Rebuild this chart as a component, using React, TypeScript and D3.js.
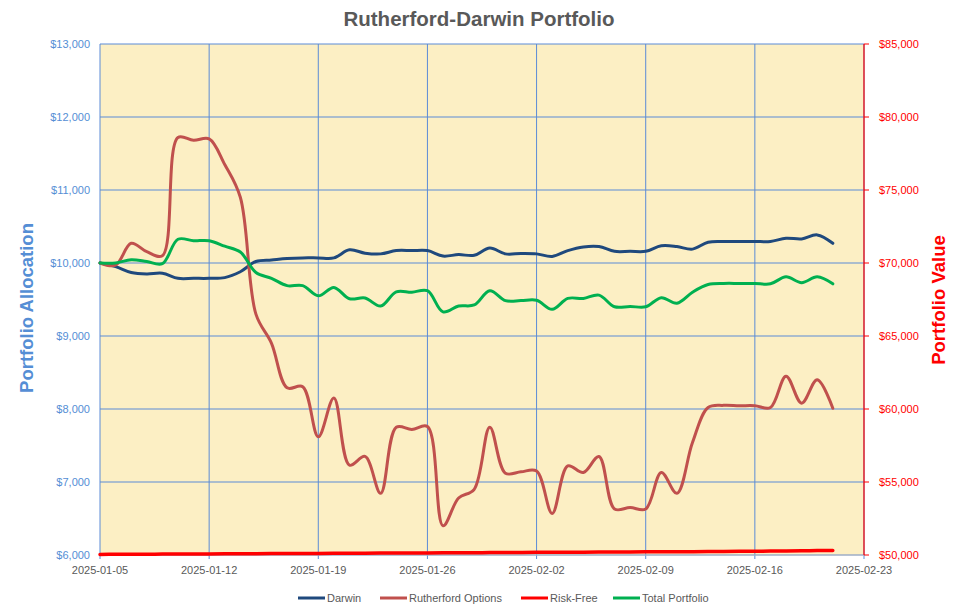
import React from "react";
import * as d3 from "d3";

const dates: string[] = [
  "2025-01-05","2025-01-06","2025-01-07","2025-01-08","2025-01-09","2025-01-10","2025-01-11","2025-01-12",
  "2025-01-13","2025-01-14","2025-01-15","2025-01-16","2025-01-17","2025-01-18","2025-01-19","2025-01-20",
  "2025-01-21","2025-01-22","2025-01-23","2025-01-24","2025-01-25","2025-01-26","2025-01-27","2025-01-28",
  "2025-01-29","2025-01-30","2025-01-31","2025-02-01","2025-02-02","2025-02-03","2025-02-04","2025-02-05",
  "2025-02-06","2025-02-07","2025-02-08","2025-02-09","2025-02-10","2025-02-11","2025-02-12","2025-02-13",
  "2025-02-14","2025-02-15","2025-02-16","2025-02-17","2025-02-18","2025-02-19","2025-02-20","2025-02-21",
];

const darwin: number[] = [
  10000, 9950, 9870, 9850, 9860, 9790, 9790, 9790, 9800, 9880, 10020, 10040, 10060, 10070, 10070, 10070,
  10180, 10135, 10125, 10170, 10170, 10170, 10095, 10115, 10105, 10205, 10125, 10130, 10125, 10090, 10170, 10220,
  10225, 10160, 10160, 10160, 10235, 10225, 10190, 10285, 10295, 10295, 10295, 10295, 10340, 10330, 10385, 10270,
];

const rutherford: number[] = [
  10000, 9970, 10270, 10155, 10100, 11720, 11680, 11700, 11350, 10900, 9300, 8900, 8290, 8305, 7620, 8150,
  7230, 7350, 6845, 7750, 7720, 7760, 6400, 6780, 6900, 7750, 7120, 7140, 7150, 6570, 7220, 7130,
  7350, 6630, 6650, 6630, 7130, 6845, 7540, 8020, 8050, 8045, 8045, 8020, 8450, 8080, 8400, 8010,
];

const riskFree: number[] = [
  6008, 6009, 6010, 6011, 6012, 6013, 6014, 6015, 6016, 6017, 6018, 6019, 6020, 6021, 6022, 6023,
  6024, 6025, 6026, 6027, 6028, 6029, 6030, 6031, 6032, 6033, 6034, 6035, 6036, 6037, 6038, 6039,
  6040, 6041, 6042, 6043, 6044, 6045, 6046, 6047, 6048, 6050, 6052, 6054, 6056, 6058, 6060, 6062,
];

const totalPortfolio: number[] = [
  70000, 70000, 70225, 70100, 69950, 71625, 71525, 71525, 71150, 70750, 69350, 68950, 68450, 68450, 67750, 68325,
  67550, 67600, 67050, 68025, 68000, 68100, 66650, 67050, 67125, 68100, 67425, 67425, 67450, 66825, 67575, 67575,
  67800, 67000, 67025, 67000, 67625, 67250, 68000, 68525, 68600, 68600, 68600, 68575, 69050, 68650, 69050, 68575,
];

const xTicks: string[] = [
  "2025-01-05","2025-01-12","2025-01-19","2025-01-26","2025-02-02","2025-02-09","2025-02-16","2025-02-23",
];
const leftTicks: number[] = [6000, 7000, 8000, 9000, 10000, 11000, 12000, 13000];
const rightTicks: number[] = [50000, 55000, 60000, 65000, 70000, 75000, 80000, 85000];

const seriesNames: string[] = ["Darwin", "Rutherford Options", "Risk-Free", "Total Portfolio"];
const seriesColors: string[] = ["#1F497D", "#C0504D", "#FF0000", "#00B050"];

const W = 956, H = 616;
const M = { left: 100, right: 864, top: 44, bottom: 555 };
const FONT = "'Liberation Sans', Arial, sans-serif";

export default function App() {
  const parse = d3.utcParse("%Y-%m-%d");
  const dts = dates.map((d) => parse(d) as Date);
  const x = d3.scaleUtc()
    .domain([parse("2025-01-05") as Date, parse("2025-02-23") as Date])
    .range([M.left, M.right]);
  const yL = d3.scaleLinear().domain([6000, 13000]).range([M.bottom, M.top]);
  const yR = d3.scaleLinear().domain([50000, 85000]).range([M.bottom, M.top]);
  const curve = d3.curveCatmullRom.alpha(0.5);

  const mk = (vals: number[], sc: d3.ScaleLinear<number, number>) =>
    d3.line<number>().x((_, i) => x(dts[i])).y((v) => sc(v)).curve(curve)(vals) || "";

  const fmt = d3.format("$,");
  const grid = "#5B8BD6";

  const legendX = [298, 380, 521, 613];

  return (
    <svg width={W} height={H} style={{ position: "absolute", left: 0, top: 0, background: "#fff" }} fontFamily={FONT}>
      <rect x={0} y={0} width={W} height={H} fill="#fff" />
      <text x={479} y={26} textAnchor="middle" fontSize={20.5} fontWeight="bold" fill="#595959">
        Rutherford-Darwin Portfolio
      </text>
      <rect x={M.left} y={M.top} width={M.right - M.left} height={M.bottom - M.top} fill="#FCEFC4" />
      {leftTicks.map((t) => (
        <line key={"h" + t} x1={M.left} x2={M.right} y1={yL(t)} y2={yL(t)} stroke={grid} strokeWidth={1} />
      ))}
      {xTicks.map((t) => {
        const xx = x(parse(t) as Date);
        return <line key={"v" + t} x1={xx} x2={xx} y1={M.top} y2={M.bottom + 4} stroke={grid} strokeWidth={1} />;
      })}
      <line x1={M.left} x2={M.right} y1={M.bottom} y2={M.bottom} stroke="#BFBFBF" strokeWidth={1} />
      {/* right axis */}
      <line x1={M.right} x2={M.right} y1={M.top} y2={M.bottom} stroke="#FF0000" strokeWidth={1.2} />
      {rightTicks.map((t) => (
        <g key={"r" + t}>
          <line x1={M.right} x2={M.right + 5} y1={yR(t)} y2={yR(t)} stroke="#FF0000" strokeWidth={1} />
          <text x={879} y={yR(t) + 4} fontSize={11} fill="#FF0000">{fmt(t)}</text>
        </g>
      ))}
      {leftTicks.map((t) => (
        <text key={"l" + t} x={90} y={yL(t) + 4} textAnchor="end" fontSize={11} fill="#558ED5">{fmt(t)}</text>
      ))}
      {xTicks.map((t) => (
        <text key={"xt" + t} x={x(parse(t) as Date)} y={574} textAnchor="middle" fontSize={11} fill="#595959">{t}</text>
      ))}
      <text transform={`translate(33,308) rotate(-90)`} textAnchor="middle" fontSize={18.5} fontWeight="bold" fill="#558ED5">
        Portfolio Allocation
      </text>
      <text transform={`translate(945,300) rotate(-90)`} textAnchor="middle" fontSize={18.5} fontWeight="bold" fill="#FF0000">
        Portfolio Value
      </text>
      <path d={mk(darwin, yL)} fill="none" stroke={seriesColors[0]} strokeWidth={3} strokeLinejoin="round" strokeLinecap="round" />
      <path d={mk(rutherford, yL)} fill="none" stroke={seriesColors[1]} strokeWidth={3} strokeLinejoin="round" strokeLinecap="round" />
      <path d={mk(riskFree, yL)} fill="none" stroke={seriesColors[2]} strokeWidth={3.5} strokeLinejoin="round" strokeLinecap="round" />
      <path d={mk(totalPortfolio, yR)} fill="none" stroke={seriesColors[3]} strokeWidth={3} strokeLinejoin="round" strokeLinecap="round" />
      {seriesNames.map((n, i) => (
        <g key={n}>
          <line x1={legendX[i]} x2={legendX[i] + 27} y1={598} y2={598} stroke={seriesColors[i]} strokeWidth={3} />
          <text x={legendX[i] + 29} y={602} fontSize={11} fill="#595959">{n}</text>
        </g>
      ))}
    </svg>
  );
}
